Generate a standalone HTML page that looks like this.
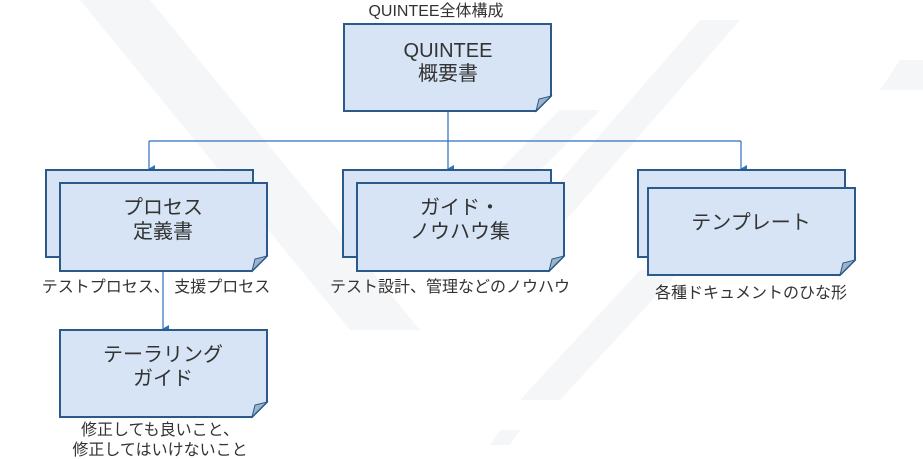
<!DOCTYPE html>
<html><head><meta charset="utf-8"><style>
html,body{margin:0;padding:0;background:#fff;}
svg{display:block;}
text{font-family:"Liberation Sans","Noto Sans CJK JP",sans-serif;fill:#333;}
</style></head><body>
<svg width="923" height="459" viewBox="0 0 923 459" xmlns="http://www.w3.org/2000/svg">
<defs>
<marker id="a" markerWidth="8" markerHeight="8" refX="4" refY="7" orient="auto" markerUnits="userSpaceOnUse">
<path d="M0,1 L8,1 L4,8 z" fill="#2f6fc0"/>
</marker>
</defs>
<g fill="#f5f6f8">
<polygon points="80,0 150,0 420,330 350,330"/>
<polygon points="560,110 600,110 510,200 470,200"/>
<polygon points="700,20 740,20 540,250 500,250"/>
<polygon points="900,60 923,60 923,90 880,90"/>
<polygon points="640,270 680,270 560,400 520,400"/>
<polygon points="500,430 520,430 510,445 490,445"/>
</g>
<g stroke="#2f6fc0" stroke-width="1.2" fill="none">
<line x1="448" y1="111" x2="448" y2="141"/>
<line x1="149" y1="141" x2="741" y2="141"/>
<line x1="149" y1="141" x2="149" y2="169" marker-end="url(#a)"/>
<line x1="448" y1="141" x2="448" y2="169" marker-end="url(#a)"/>
<line x1="741" y1="141" x2="741" y2="169" marker-end="url(#a)"/>
<line x1="163" y1="271" x2="163" y2="329" marker-end="url(#a)"/>
</g>
<g stroke="#2b5a8a" stroke-width="2" fill="#d6e4f5">
<path d="M344,24 H551 V96 L536,111 H344 Z"/>
<rect x="46" y="170" width="207" height="87"/>
<path d="M60,183 H267 V256 L252,271 H60 Z"/>
<rect x="343" y="170" width="208" height="87"/>
<path d="M357,183 H564 V256 L549,271 H357 Z"/>
<rect x="638" y="170" width="207" height="87"/>
<path d="M648,188 H855 V260 L840,275 H648 Z"/>
<path d="M60,330 H267 V402 L252,417 H60 Z"/>
</g>
<g fill="#9fb3c8" stroke="#2b5a8a" stroke-width="1">
<path d="M551,96 L536,111 L539,99 Z"/>
<path d="M267,256 L252,271 L255,259 Z"/>
<path d="M564,256 L549,271 L552,259 Z"/>
<path d="M855,260 L840,275 L843,263 Z"/>
<path d="M267,402 L252,417 L255,405 Z"/>
</g>
<g text-anchor="middle">
<text x="436" y="16" font-size="16">QUINTEE全体構成</text>
<text x="448" y="57" font-size="20">QUINTEE</text>
<text x="448" y="80" font-size="20">概要書</text>
<text x="163" y="214" font-size="20">プロセス</text>
<text x="163" y="238" font-size="20">定義書</text>
<text x="460" y="214" font-size="20">ガイド・</text>
<text x="460" y="238" font-size="20">ノウハウ集</text>
<text x="751" y="229" font-size="20">テンプレート</text>
<text x="163" y="361" font-size="20">テーラリング</text>
<text x="163" y="385" font-size="20">ガイド</text>
<text x="156" y="292" font-size="16">テストプロセス、 支援プロセス</text>
<text x="450" y="292" font-size="16">テスト設計、管理などのノウハウ</text>
<text x="751" y="298" font-size="16">各種ドキュメントのひな形</text>
<text x="160" y="435" font-size="16">修正しても良いこと、</text>
<text x="160" y="455" font-size="16">修正してはいけないこと</text>
</g>
</svg>
</body></html>
